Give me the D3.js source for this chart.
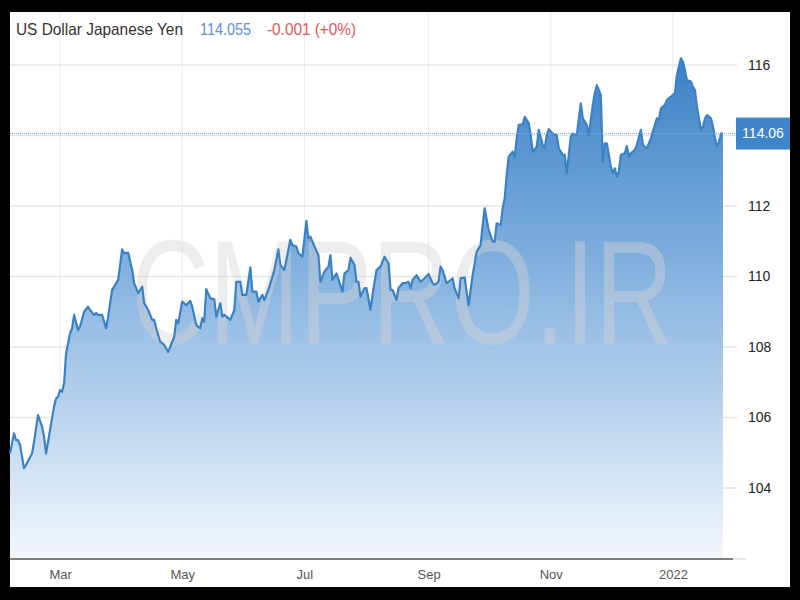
<!DOCTYPE html>
<html><head><meta charset="utf-8">
<script src="https://cdn.jsdelivr.net/npm/d3@7"></script>
<style>
html,body{margin:0;padding:0;background:#000;}
svg{display:block;}
</style></head>
<body>
<script>
// ---- data ----
const dates = ["2021-02-04","2021-02-06","2021-02-07","2021-02-08","2021-02-09","2021-02-11","2021-02-12","2021-02-15","2021-02-16","2021-02-18","2021-02-20","2021-02-21","2021-02-22","2021-02-24","2021-02-26","2021-02-27","2021-02-28",
"2021-03-01","2021-03-02","2021-03-03","2021-03-04","2021-03-06","2021-03-07","2021-03-08","2021-03-10","2021-03-11","2021-03-13","2021-03-15","2021-03-16","2021-03-18","2021-03-19","2021-03-20","2021-03-22","2021-03-24","2021-03-25","2021-03-27","2021-03-29","2021-03-30",
"2021-04-01","2021-04-02","2021-04-04","2021-04-06","2021-04-07","2021-04-09","2021-04-11","2021-04-12","2021-04-14","2021-04-16","2021-04-17","2021-04-18","2021-04-20","2021-04-22","2021-04-24","2021-04-27","2021-04-28","2021-04-29",
"2021-05-01","2021-05-03","2021-05-05","2021-05-06","2021-05-08","2021-05-10","2021-05-11","2021-05-12","2021-05-13","2021-05-15","2021-05-17","2021-05-18","2021-05-20","2021-05-21","2021-05-22","2021-05-25","2021-05-27","2021-05-28","2021-05-30","2021-05-31",
"2021-06-02","2021-06-04","2021-06-05","2021-06-07","2021-06-08","2021-06-10","2021-06-11","2021-06-13","2021-06-15","2021-06-16","2021-06-18","2021-06-19","2021-06-21","2021-06-22","2021-06-24","2021-06-25","2021-06-27","2021-06-28","2021-06-30",
"2021-07-02","2021-07-03","2021-07-04","2021-07-06","2021-07-08","2021-07-09","2021-07-11","2021-07-13","2021-07-14","2021-07-15","2021-07-17","2021-07-20","2021-07-21","2021-07-23","2021-07-24","2021-07-26","2021-07-27","2021-07-28","2021-07-29","2021-07-31",
"2021-08-01","2021-08-03","2021-08-04","2021-08-06","2021-08-08","2021-08-10","2021-08-12","2021-08-13","2021-08-14","2021-08-16","2021-08-17","2021-08-19","2021-08-20","2021-08-22","2021-08-23","2021-08-24","2021-08-26","2021-08-28","2021-08-30",
"2021-09-01","2021-09-03","2021-09-04","2021-09-06","2021-09-07","2021-09-08","2021-09-10","2021-09-11","2021-09-13","2021-09-14","2021-09-16","2021-09-17","2021-09-19","2021-09-20","2021-09-21","2021-09-23","2021-09-25","2021-09-27","2021-09-28","2021-09-29",
"2021-10-01","2021-10-03","2021-10-04","2021-10-05","2021-10-07","2021-10-08","2021-10-09","2021-10-10","2021-10-11","2021-10-13","2021-10-14","2021-10-15","2021-10-16","2021-10-18","2021-10-19","2021-10-21","2021-10-22","2021-10-23","2021-10-25","2021-10-26","2021-10-28","2021-10-29","2021-10-30","2021-10-31",
"2021-11-02","2021-11-04","2021-11-05","2021-11-07","2021-11-08","2021-11-09","2021-11-11","2021-11-12","2021-11-14","2021-11-16","2021-11-17","2021-11-19","2021-11-20","2021-11-22","2021-11-23","2021-11-24","2021-11-26","2021-11-27","2021-11-28","2021-11-29",
"2021-12-01","2021-12-02","2021-12-03","2021-12-04","2021-12-05","2021-12-06","2021-12-08","2021-12-09","2021-12-10","2021-12-11","2021-12-13","2021-12-14","2021-12-16","2021-12-17","2021-12-18","2021-12-19","2021-12-21","2021-12-23","2021-12-24","2021-12-25","2021-12-26","2021-12-28","2021-12-29","2021-12-31",
"2022-01-02","2022-01-03","2022-01-05","2022-01-06","2022-01-07","2022-01-08","2022-01-10","2022-01-11","2022-01-12","2022-01-13","2022-01-15","2022-01-16","2022-01-17","2022-01-18","2022-01-20","2022-01-21","2022-01-22","2022-01-23","2022-01-24","2022-01-25","2022-01-26"];
const values = [104.98,105.55,105.36,105.36,105.22,104.56,104.65,104.98,105.31,106.07,105.74,105.46,104.98,105.65,106.31,106.54,106.59,
106.78,106.73,106.97,107.82,108.39,108.53,108.91,108.48,108.58,109.00,109.14,109.05,108.91,108.96,108.91,108.91,108.53,108.86,109.62,109.81,109.90,
110.77,110.66,110.68,110.18,109.81,109.52,109.71,109.24,109.05,108.77,108.77,108.53,108.15,108.06,107.86,108.29,108.77,108.67,
109.29,109.19,109.31,109.14,108.62,108.53,108.81,108.72,109.64,109.38,109.35,108.86,109.24,108.86,108.91,108.77,109.05,109.85,109.85,109.48,
109.48,110.26,109.57,109.57,109.29,109.48,109.33,109.62,109.99,110.18,110.77,110.33,110.18,110.47,111.04,110.89,110.85,110.66,110.56,
111.58,111.08,111.13,110.85,110.61,109.85,110.14,110.28,110.61,109.90,110.09,109.57,110.09,110.18,110.53,110.33,109.85,109.85,109.43,109.67,
109.67,109.05,109.48,110.18,110.28,110.56,110.37,109.62,109.62,109.33,109.67,109.81,109.81,109.85,109.67,109.90,110.04,109.85,109.95,
110.07,109.81,109.76,109.85,110.28,110.18,109.81,109.85,109.95,109.67,109.38,109.95,109.97,109.57,109.19,110.04,110.70,110.89,111.46,111.93,
111.32,110.99,110.99,111.51,111.46,111.93,112.22,112.88,113.40,113.54,113.40,113.92,114.30,114.32,114.53,114.35,114.01,113.54,113.68,114.16,113.73,113.65,114.01,114.18,
114.06,114.01,113.64,113.45,113.45,112.93,113.97,114.06,114.01,114.91,114.49,114.30,114.01,114.87,115.20,115.43,115.15,113.26,113.78,113.78,
113.11,112.93,113.07,112.83,112.97,113.45,113.50,113.70,113.40,113.50,113.59,113.73,114.16,113.73,113.68,113.64,113.92,114.30,114.49,114.44,114.77,114.87,115.01,115.10,
115.20,115.72,116.19,116.09,115.86,115.57,115.53,115.38,115.29,114.82,114.16,114.25,114.49,114.58,114.49,114.25,113.92,113.68,113.82,114.06,114.055];
const yTicks = [104,106,108,110,112,114,116];
const yLabelTicks = [104,106,108,110,112,116]; // 114 is hidden behind the last-price marker
const xTickDates = ["2021-03-01","2021-05-01","2021-07-01","2021-09-01","2021-11-01","2022-01-01"];
const xTickLabels = ["Mar","May","Jul","Sep","Nov","2022"];
const titleText = "US Dollar Japanese Yen";
const priceText = "114.055";
const changeText = "-0.001 (+0%)";
const lastLabel = "114.06";
const lastValue = 114.055;
const watermark = "CMPRO.IR";

// ---- chart ----
const parse = d3.timeParse("%Y-%m-%d");
const data = dates.map((d,i)=>({date:parse(d), value:values[i]}));

const W=800,H=600;
const FONT = "Liberation Sans, Arial, sans-serif";
const svg = d3.select("body").append("svg").attr("width",W).attr("height",H);
svg.append("rect").attr("width",W).attr("height",H).attr("fill","#000");
svg.append("rect").attr("x",10).attr("y",12).attr("width",780).attr("height",575).attr("fill","#fff");

const x = d3.scaleTime().domain([parse("2021-02-04"), parse("2022-01-31")]).range([10,733]);
const y = d3.scaleLinear().domain([102,116]).range([558.5,65]);

const defs = svg.append("defs");
const grad = defs.append("linearGradient").attr("id","fillg")
  .attr("gradientUnits","userSpaceOnUse").attr("x1",0).attr("x2",0).attr("y1",55).attr("y2",559);
grad.append("stop").attr("offset","0").attr("stop-color","#3b80c6");
grad.append("stop").attr("offset","0.45").attr("stop-color","#88b4e0");
grad.append("stop").attr("offset","1").attr("stop-color","#f3f7fc");

// vertical grid
svg.append("g").selectAll("line").data(xTickDates).join("line")
  .attr("x1",d=>x(parse(d))).attr("x2",d=>x(parse(d)))
  .attr("y1",12).attr("y2",559).attr("stroke","#ececec").attr("stroke-width",1);

// horizontal grid
svg.append("g").selectAll("line").data(yTicks).join("line")
  .attr("x1",10).attr("x2",737).attr("y1",d=>y(d)).attr("y2",d=>y(d))
  .attr("stroke","#e6e6e6").attr("stroke-width",1.5);

// area
const area = d3.area().x(d=>x(d.date)).y0(y(102)).y1(d=>y(d.value));
svg.append("path").datum(data).attr("d",area).attr("fill","url(#fillg)");

// watermark (natural width ~535px, stretched vertically)
svg.append("text").attr("transform","translate(131,344) scale(1,1.36)")
  .attr("font-family",FONT).attr("font-size",108.5)
  .attr("fill","rgb(212,212,212)").attr("fill-opacity",0.42).text(watermark);

// line
const line = d3.line().x(d=>x(d.date)).y(d=>y(d.value));
svg.append("path").datum(data).attr("d",line).attr("fill","none")
  .attr("stroke","#3a82c6").attr("stroke-width",2.2).attr("stroke-linejoin","round");

// last price dotted line
svg.append("line").attr("x1",10).attr("x2",736).attr("y1",y(lastValue)).attr("y2",y(lastValue))
  .attr("stroke","#7aa8dc").attr("stroke-width",1).attr("stroke-dasharray","1,1");

// x axis line
svg.append("line").attr("x1",10).attr("x2",733).attr("y1",559).attr("y2",559).attr("stroke","#555").attr("stroke-width",1.5);
svg.append("line").attr("x1",733).attr("x2",746).attr("y1",559).attr("y2",559).attr("stroke","#ddd").attr("stroke-width",1.5);

// x labels
const xAxis = d3.axisBottom(x).tickValues(xTickDates.map(parse))
  .tickFormat((d,i)=>xTickLabels[i]).tickSize(0).tickPadding(0);
const gx = svg.append("g").attr("transform","translate(0,570)").call(xAxis);
gx.select(".domain").remove();
gx.selectAll("text").attr("font-family",FONT).attr("font-size",13)
  .attr("fill","#555").attr("dy","0.71em");

// y labels
const yAxis = d3.axisRight(y).tickValues(yLabelTicks).tickFormat(d3.format("d")).tickSize(0).tickPadding(0);
const gy = svg.append("g").attr("transform","translate(748,0)").call(yAxis);
gy.select(".domain").remove();
gy.selectAll("text").attr("font-family",FONT).attr("font-size",14).attr("fill","#222");

// last price marker
svg.append("rect").attr("x",736).attr("y",y(lastValue)-16).attr("width",54).attr("height",32).attr("fill","#3f85c9");
svg.append("text").attr("x",763).attr("y",y(lastValue)).attr("dy","0.35em").attr("text-anchor","middle")
  .attr("font-family",FONT).attr("font-size",14).attr("fill","#fff").text(lastLabel);

// title
const t = svg.append("text").attr("y",35).attr("font-family",FONT).attr("font-size",16.5);
t.append("tspan").attr("x",16).attr("fill","#333").attr("textLength",167).attr("lengthAdjust","spacingAndGlyphs").text(titleText);
t.append("tspan").attr("x",200).attr("fill","#5b93d3").attr("textLength",51).attr("lengthAdjust","spacingAndGlyphs").text(priceText);
t.append("tspan").attr("x",267).attr("fill","#e0565b").attr("textLength",89).attr("lengthAdjust","spacingAndGlyphs").text(changeText);
</script>
</body></html>
